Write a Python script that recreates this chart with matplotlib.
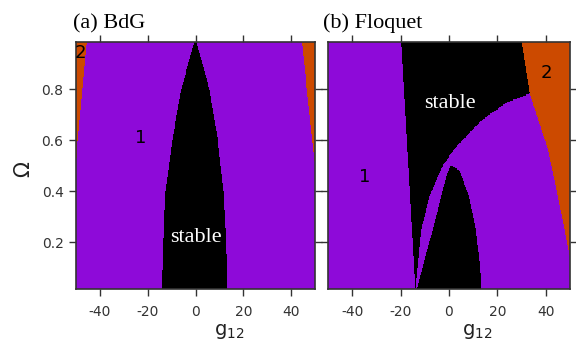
import numpy as np
import matplotlib.pyplot as plt
from matplotlib.colors import ListedColormap

plt.rcParams['mathtext.default'] = 'regular'
plt.rcParams['axes.unicode_minus'] = False

# 0 = stable, 1 = unstable (mode 1), 2 = unstable (mode 2)
colors = ['black', '#8E0AD9', '#CC4A00']

# ---- (a) BdG : boundaries ----
a_stable_om = [0.015, 0.2, 0.4, 0.6, 0.8, 0.985]
a_stable_left = [-14.1, -13.6, -12.5, -9.7, -6.0, -0.6]
a_stable_right = [13.2, 12.8, 11.7, 9.3, 5.8, 0.4]
a_two_left_om = [0.52, 0.985]
a_two_left_g = [-50.0, -45.6]
a_two_right_om = [0.49, 0.985]
a_two_right_g = [50.0, 44.5]

# ---- (b) Floquet ----
b_left_om = [0.015, 0.985]
b_left_g = [-14.0, -19.9]
b_upper_g = [-14.0, -11.6, -8.2, -4.5, -2.0, 0.0, 4.3, 13.8, 23.5, 33.2]
b_upper_om = [0.015, 0.247, 0.378, 0.46, 0.51, 0.535, 0.587, 0.68, 0.744, 0.783]
b_dome_g = [-13.4, -10.0, -6.8, -3.3, -1.0, 0.8, 4.3, 8.4, 11.2, 13.0, 13.5]
b_dome_om = [0.015, 0.14, 0.247, 0.378, 0.46, 0.502, 0.482, 0.378, 0.247, 0.1, 0.015]
b_two_om = [0.142, 0.404, 0.561, 0.783, 0.985]
b_two_g = [50.0, 44.4, 40.9, 33.2, 29.9]

xticks = [-40, -20, 0, 20, 40]
yticks = [0.2, 0.4, 0.6, 0.8]


def grid(ng, nom):
    g = np.linspace(-50, 50, ng)
    om = np.linspace(0.015, 0.985, nom)
    G, O = np.meshgrid((g[1:] + g[:-1]) / 2, (om[1:] + om[:-1]) / 2)
    return g, om, G, O


def map_a():
    g, om, G, O = grid(501, 389)
    z = np.ones(G.shape)
    inside = (G > np.interp(O, a_stable_om, a_stable_left)) & \
             (G < np.interp(O, a_stable_om, a_stable_right))
    z[inside] = 0
    z[G < np.interp(O, a_two_left_om, a_two_left_g)] = 2
    z[G > np.interp(O, a_two_right_om, a_two_right_g)] = 2
    return g, om, z


def map_b():
    g, om, G, O = grid(241, 195)
    z = np.ones(G.shape)
    upper = (G >= np.interp(O, b_left_om, b_left_g)) & \
            (O > np.interp(G, b_upper_g, b_upper_om))
    z[upper] = 0
    z[O < np.interp(G, b_dome_g, b_dome_om)] = 0
    z[G > np.interp(O, b_two_om, b_two_g)] = 2
    return g, om, z


def style(ax, left_labels):
    ax.set_xlim(-50, 50)
    ax.set_ylim(0.015, 0.985)
    ax.set_xticks(xticks)
    ax.set_yticks(yticks)
    ax.tick_params(direction='out', length=5, width=1, color='#333333',
                   top=True, right=True, labelsize=10, labelcolor='#333333')
    ax.tick_params(axis='x', pad=6)
    ax.tick_params(axis='y', pad=4)
    if not left_labels:
        ax.set_yticklabels([])
    for s in ax.spines.values():
        s.set_color('#333333')
        s.set_linewidth(1.2)


fig = plt.figure(figsize=(5.76, 3.47), dpi=100)
cmap = ListedColormap(colors)

axa = fig.add_axes([0.132, 0.166, 0.415, 0.713])
g, om, z = map_a()
axa.pcolormesh(g, om, z, cmap=cmap, vmin=-0.5, vmax=2.5, shading='flat')
style(axa, True)
axa.text(0.3, 0.218, 'stable', color='white', fontsize=16,
         family='Liberation Serif', ha='center', va='center')
axa.text(-23, 0.607, '1', fontsize=13, ha='center', va='center')
axa.text(-48, 0.942, '2', fontsize=13, ha='center', va='center')

axb = fig.add_axes([0.5694, 0.166, 0.4201, 0.713])
g, om, z = map_b()
axb.pcolormesh(g, om, z, cmap=cmap, vmin=-0.5, vmax=2.5, shading='flat')
style(axb, False)
axb.text(0.5, 0.744, 'stable', color='white', fontsize=16,
         family='Liberation Serif', ha='center', va='center')
axb.text(-34.7, 0.455, '1', fontsize=13, ha='center', va='center')
axb.text(40.3, 0.864, '2', fontsize=13, ha='center', va='center')

fig.text(73 / 576, 1 - 28 / 347, '(a) BdG', fontsize=16,
         family='Liberation Serif', ha='left', va='baseline')
fig.text(323 / 576, 1 - 28 / 347, '(b) Floquet', fontsize=16,
         family='Liberation Serif', ha='left', va='baseline')

fig.text(24 / 576, 1 - 169 / 347, r'$\Omega$', fontsize=15, rotation=90,
         ha='center', va='center', color='#222222')
fig.text(229 / 576, 1 - 322 / 347, r'$g_{12}$', fontsize=14,
         ha='center', va='top', color='#222222')
fig.text(477 / 576, 1 - 322 / 347, r'$g_{12}$', fontsize=14,
         ha='center', va='top', color='#222222')

fig.savefig('out.png', dpi=100)
